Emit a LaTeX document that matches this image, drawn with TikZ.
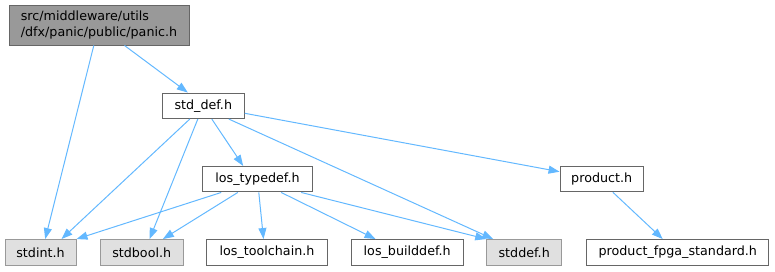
\documentclass[tikz,border=0pt]{standalone}
\usepackage{fontspec}
\setmainfont{DejaVu Sans}
\usetikzlibrary{arrows.meta}
\definecolor{edgeblue}{HTML}{63B8FF}
\definecolor{bordergray}{HTML}{666666}
\definecolor{rootfill}{HTML}{999999}
\definecolor{sysfill}{HTML}{E0E0E0}
\definecolor{sysborder}{HTML}{999999}
\tikzset{
  filebox/.style={draw=bordergray, fill=white, line width=1pt, minimum height=25.5pt, inner sep=0pt, font=\fontsize{12.7}{16.5}\selectfont},
  sysbox/.style={filebox, draw=sysborder, fill=sysfill},
  rootbox/.style={filebox, fill=rootfill, minimum height=40pt, align=left},
  dep/.style={draw=edgeblue, line width=1pt, -{Triangle[length=11pt,width=8pt]}},
}
\begin{document}
\begin{tikzpicture}[x=1pt,y=-1pt]
\useasboundingbox (0,0) rectangle (775,271);
\node[rootbox, minimum width=180pt] (panic) at (99,25) {src/middleware/utils\\/dfx/panic/public/panic.h};
\node[filebox, minimum width=82pt] (stddefh) at (203.3,105.8) {std\_def.h};
\node[filebox, minimum width=109.6pt] (lostypedef) at (257.5,179.2) {los\_typedef.h};
\node[filebox, minimum width=83.3pt] (product) at (601.7,179) {product.h};
\node[sysbox, minimum width=71pt] (stdint) at (40.5,252.3) {stdint.h};
\node[sysbox, minimum width=83.3pt] (stdbool) at (141.7,252.3) {stdbool.h};
\node[filebox, minimum width=120.6pt] (toolchain) at (267,252.3) {los\_toolchain.h};
\node[filebox, minimum width=112.3pt] (builddef) at (407.2,252.3) {los\_builddef.h};
\node[sysbox, minimum width=75pt] (stddef) at (524.2,252.3) {stddef.h};
\node[filebox, minimum width=182.3pt] (fpga) at (677.8,252.3) {product\_fpga\_standard.h};

\draw[dep] ([xshift=85.3pt]panic.south west) -- ([xshift=40.7pt]stdint.north west);
\draw[dep] ([xshift=116pt]panic.south west) -- ([xshift=26pt]stddefh.north west);
\draw[dep] ([xshift=28pt]stddefh.south west) -- ([xshift=57pt]stdint.north west);
\draw[dep] ([xshift=36pt]stddefh.south west) -- ([xshift=50pt]stdbool.north west);
\draw[dep] ([xshift=50pt]stddefh.south west) -- ([xshift=41pt]lostypedef.north west);
\draw[dep] ([xshift=67pt]stddefh.south west) -- ([xshift=7pt]stddef.north west);
\draw[dep] ([yshift=-7.5pt]stddefh.east) -- ([yshift=7.3pt]product.west);
\draw[dep] ([xshift=19pt]lostypedef.south west) -- (stdint.north east);
\draw[dep] ([xshift=35.6pt]lostypedef.south west) -- ([xshift=63.3pt]stdbool.north west);
\draw[dep] ([xshift=56.6pt]lostypedef.south west) -- ([xshift=57.3pt]toolchain.north west);
\draw[dep] ([xshift=79pt]lostypedef.south west) -- ([xshift=25pt]builddef.north west);
\draw[dep] ([xshift=99pt]lostypedef.south west) -- (stddef.north west);
\draw[dep] ([xshift=53.3pt]product.south west) -- ([xshift=76.6pt]fpga.north west);
\end{tikzpicture}
\end{document}
